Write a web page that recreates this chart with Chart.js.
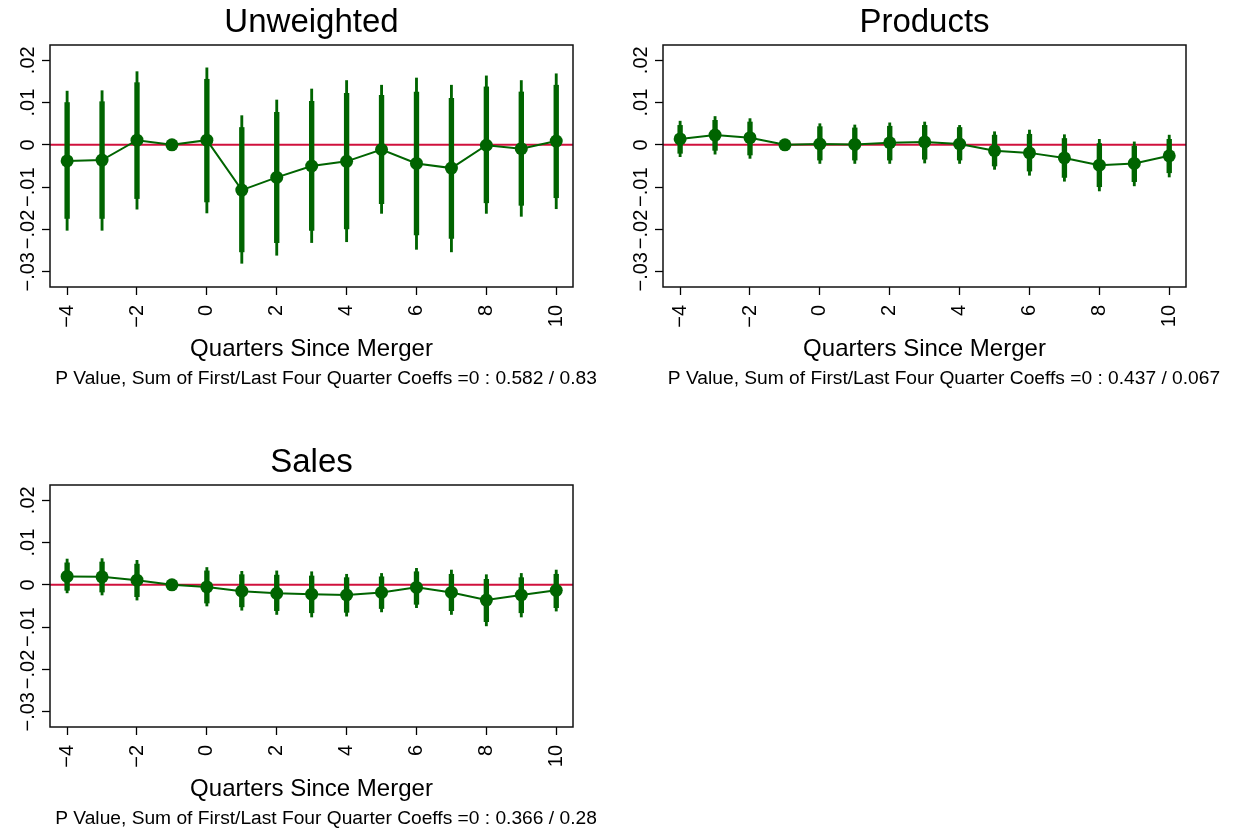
<!DOCTYPE html>
<html><head><meta charset="utf-8">
<script src="https://cdn.jsdelivr.net/npm/chart.js@4.4.1/dist/chart.umd.min.js"></script>
<style>
html,body{margin:0;padding:0;background:#fff;overflow:hidden;width:1233px;height:835px;}
#wrap{position:relative;width:1233px;height:835px;background:#fff;}
canvas{position:absolute;}
</style></head><body><div id="wrap">
<canvas id="c1" width="652" height="395" style="left:0px;top:0px"></canvas>
<canvas id="c2" width="658" height="395" style="left:615px;top:0px"></canvas>
<canvas id="c3" width="652" height="395" style="left:0px;top:440px"></canvas>
</div>
<script>
// ---------- data ----------
const quarters = [-4, -3, -2, -1, 0, 1, 2, 3, 4, 5, 6, 7, 8, 9, 10];

const xTickValues = [-4, -2, 0, 2, 4, 6, 8, 10];
const xTickLabels = ['\u22124', '\u22122', '0', '2', '4', '6', '8', '10'];
const yTickValues = [-0.03, -0.02, -0.01, 0, 0.01, 0.02];
const yTickLabels = ['\u2212.03', '\u2212.02', '\u2212.01', '0', '.01', '.02'];
const refLineValue = 0;

const panelTitles = ['Unweighted', 'Products', 'Sales'];
const xAxisTitle = 'Quarters Since Merger';
const panelNotes = [
  'P Value, Sum of First/Last Four Quarter Coeffs =0 : 0.582 / 0.83',
  'P Value, Sum of First/Last Four Quarter Coeffs =0 : 0.437 / 0.067',
  'P Value, Sum of First/Last Four Quarter Coeffs =0 : 0.366 / 0.28'
];

// Unweighted
const unwCoef = [-0.0038, -0.0036, 0.0011, 0, 0.0011, -0.0107, -0.0077, -0.0050, -0.0039, -0.0011, -0.0044, -0.0055, -0.0001, -0.0009, 0.0009];
const unwLo90 = [-0.0174, -0.0174, -0.0127, null, -0.0135, -0.0253, -0.0231, -0.0202, -0.0199, -0.0139, -0.0213, -0.0221, -0.0137, -0.0143, -0.0125];
const unwHi90 = [0.0100, 0.0102, 0.0147, null, 0.0155, 0.0041, 0.0077, 0.0103, 0.0122, 0.0117, 0.0125, 0.0110, 0.0137, 0.0125, 0.0141];
const unwLo95 = [-0.0202, -0.0202, -0.0152, null, -0.0161, -0.0280, -0.0261, -0.0231, -0.0229, -0.0162, -0.0247, -0.0253, -0.0162, -0.0169, -0.0151];
const unwHi95 = [0.0127, 0.0128, 0.0173, null, 0.0182, 0.0069, 0.0106, 0.0132, 0.0152, 0.0141, 0.0158, 0.0141, 0.0163, 0.0152, 0.0168];

// Products
const prodCoef = [0.0014, 0.0023, 0.0017, 0, 0.0002, 0.0001, 0.0005, 0.0007, 0.0002, -0.0014, -0.0019, -0.0031, -0.0048, -0.0044, -0.0026];
const prodLo90 = [-0.0020, -0.0013, -0.0024, null, -0.0036, -0.0036, -0.0036, -0.0034, -0.0036, -0.0050, -0.0062, -0.0077, -0.0099, -0.0087, -0.0066];
const prodHi90 = [0.0046, 0.0058, 0.0054, null, 0.0043, 0.0040, 0.0044, 0.0046, 0.0041, 0.0023, 0.0025, 0.0015, 0.0003, -0.0003, 0.0013];
const prodLo95 = [-0.0028, -0.0022, -0.0032, null, -0.0044, -0.0044, -0.0044, -0.0043, -0.0044, -0.0058, -0.0072, -0.0086, -0.0109, -0.0097, -0.0076];
const prodHi95 = [0.0056, 0.0067, 0.0062, null, 0.0050, 0.0047, 0.0052, 0.0054, 0.0046, 0.0031, 0.0035, 0.0024, 0.0013, 0.0007, 0.0023];

// Sales
const salesCoef = [0.0020, 0.0019, 0.0011, 0, -0.0005, -0.0015, -0.0020, -0.0022, -0.0024, -0.0018, -0.0006, -0.0018, -0.0036, -0.0024, -0.0013];
const salesLo90 = [-0.0013, -0.0017, -0.0028, null, -0.0043, -0.0052, -0.0061, -0.0066, -0.0065, -0.0056, -0.0046, -0.0061, -0.0087, -0.0066, -0.0054];
const salesHi90 = [0.0052, 0.0054, 0.0049, null, 0.0033, 0.0024, 0.0023, 0.0021, 0.0017, 0.0019, 0.0031, 0.0025, 0.0013, 0.0017, 0.0025];
const salesLo95 = [-0.0019, -0.0024, -0.0036, null, -0.0050, -0.0060, -0.0070, -0.0076, -0.0074, -0.0064, -0.0054, -0.0070, -0.0097, -0.0076, -0.0062];
const salesHi95 = [0.0061, 0.0062, 0.0058, null, 0.0041, 0.0032, 0.0033, 0.0031, 0.0025, 0.0027, 0.0039, 0.0035, 0.0024, 0.0027, 0.0035];

// ---------- style ----------
const FONT = '"Liberation Sans", Arial, Helvetica, sans-serif';
const GREEN = '#006400';
const REFRED = '#d0103c';
Chart.defaults.font.family = FONT;
Chart.defaults.color = '#000';
Chart.defaults.animation = false;

const Y_MIN = -0.0336, Y_MAX = 0.0236;
const X_MIN = -4.49, X_MAX = 10.48;
const TICK_LEN = 8;
const YTICK_FONT = 20;
const YLABEL_OFFSET = 22;

const mctx = document.createElement('canvas').getContext('2d');
mctx.font = YTICK_FONT + 'px ' + FONT;
const widestY = Math.max(...yTickLabels.map(t => mctx.measureText(t).width));
const yTickPadding = YLABEL_OFFSET - TICK_LEN - widestY / 2;

const framePlugin = {
  id: 'frame',
  afterDatasetsDraw(chart) {
    const { ctx, chartArea: a } = chart;
    ctx.save();
    ctx.strokeStyle = '#111';
    ctx.lineWidth = 1.5;
    ctx.strokeRect(a.left, a.top, a.right - a.left, a.bottom - a.top);
    ctx.restore();
  }
};
const refLinePlugin = {
  id: 'refline',
  beforeDatasetsDraw(chart) {
    const { ctx, chartArea: a } = chart;
    const y = chart.scales.y.getPixelForValue(refLineValue);
    ctx.save();
    ctx.strokeStyle = REFRED;
    ctx.lineWidth = 2;
    ctx.beginPath();
    ctx.moveTo(a.left, y);
    ctx.lineTo(a.right, y);
    ctx.stroke();
    ctx.restore();
  }
};

function ciData(lo, hi) {
  const out = [];
  quarters.forEach((q, i) => {
    if (lo[i] !== null && hi[i] !== null) out.push({ x: q, y: [lo[i], hi[i]] });
  });
  return out;
}

function makePanel(id, title, note, coef, lo90, hi90, lo95, hi95, yWidth, rightWidth) {
  new Chart(document.getElementById(id), {
    type: 'bar',
    data: {
      datasets: [
        {
          type: 'line',
          data: quarters.map((q, i) => ({ x: q, y: coef[i] })),
          borderColor: GREEN, backgroundColor: GREEN, borderWidth: 2,
          pointRadius: 6.5, pointBackgroundColor: GREEN, pointBorderWidth: 0,
          tension: 0, order: 0
        },
        {
          type: 'bar', data: ciData(lo90, hi90), backgroundColor: GREEN,
          borderWidth: 0, barThickness: 4.7, grouped: false, order: 1
        },
        {
          type: 'bar', data: ciData(lo95, hi95), backgroundColor: GREEN,
          borderWidth: 0, barThickness: 2.2, grouped: false, order: 2
        }
      ]
    },
    options: {
      responsive: false,
      events: [],
      layout: { padding: 0, autoPadding: false },
      plugins: {
        legend: { display: false },
        tooltip: { enabled: false },
        title: {
          display: true, text: title, fullSize: false, color: '#000',
          font: { size: 33, weight: 'normal', lineHeight: '40px' },
          padding: { top: 3, bottom: 2 }
        },
        subtitle: {
          display: true, text: note, position: 'bottom', fullSize: true, color: '#000',
          font: { size: 19.2, weight: 'normal', lineHeight: '22px' },
          padding: { top: 5, bottom: 5 }
        }
      },
      scales: {
        x: {
          type: 'linear', min: X_MIN, max: X_MAX, offset: false,
          afterBuildTicks: s => { s.ticks = xTickValues.map(v => ({ value: v })); },
          afterFit: s => { s.height = 76; },
          ticks: {
            autoSkip: false, minRotation: 90, maxRotation: 90, padding: 10,
            font: { size: 20 }, color: '#000',
            callback: (v, i) => xTickLabels[i]
          },
          grid: { display: true, offset: false, drawOnChartArea: false, drawTicks: true, tickLength: TICK_LEN, tickColor: '#000', tickWidth: 1.3 },
          border: { display: false },
          title: { display: true, text: xAxisTitle, color: '#000', font: { size: 24, lineHeight: '28px' }, padding: { top: 0, bottom: 0 } }
        },
        y: {
          type: 'linear', min: Y_MIN, max: Y_MAX, position: 'left',
          afterBuildTicks: s => { s.ticks = yTickValues.map(v => ({ value: v })); },
          afterFit: s => { s.width = yWidth; },
          ticks: {
            minRotation: 90, maxRotation: 90, crossAlign: 'center', padding: yTickPadding,
            font: { size: YTICK_FONT }, color: '#000',
            callback: (v, i) => yTickLabels[i]
          },
          grid: { display: true, drawOnChartArea: false, drawTicks: true, tickLength: TICK_LEN, tickColor: '#000', tickWidth: 1.3 },
          border: { display: false }
        },
        yr: {
          type: 'linear', position: 'right', display: true,
          afterFit: s => { s.width = rightWidth; },
          ticks: { display: false },
          grid: { display: false },
          border: { display: false }
        }
      }
    },
    plugins: [refLinePlugin, framePlugin]
  });
}

makePanel('c1', panelTitles[0], panelNotes[0], unwCoef, unwLo90, unwHi90, unwLo95, unwHi95, 50, 79);
makePanel('c2', panelTitles[1], panelNotes[1], prodCoef, prodLo90, prodHi90, prodLo95, prodHi95, 48, 87);
makePanel('c3', panelTitles[2], panelNotes[2], salesCoef, salesLo90, salesHi90, salesLo95, salesHi95, 50, 79);
</script>
</body></html>
